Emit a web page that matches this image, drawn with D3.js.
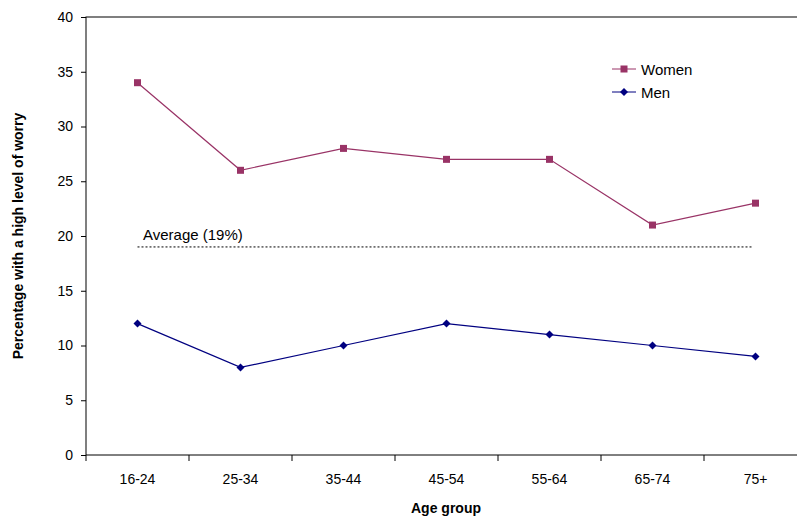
<!DOCTYPE html>
<html><head><meta charset="utf-8">
<script src="https://cdn.jsdelivr.net/npm/d3@7"></script>
<style>body{margin:0;background:#fff}text{font-family:"Liberation Sans",Arial,sans-serif}</style>
</head><body><svg id="c" width="797" height="516"></svg>
<script>
var ages = ["16-24","25-34","35-44","45-54","55-64","65-74","75+"];
var women = [34,26,28,27,27,21,23];
var men = [12,8,10,12,11,10,9];
var average = 19;
var yTicks = [0,5,10,15,20,25,30,35,40];

var svg = d3.select("#c");
var x = d3.scaleBand().domain(ages).range([86,807]);
var y = d3.scaleLinear().domain([0,40]).range([455,17]);
var cx = function(d){ return x(d)+x.bandwidth()/2; };

svg.append("rect").attr("x",86).attr("y",17).attr("width",721).attr("height",438)
	.attr("fill","none").attr("stroke","#000").attr("stroke-width",1);

var ya = svg.append("g").attr("transform","translate(86,0)")
	.call(d3.axisLeft(y).tickValues(yTicks).tickSize(5).tickPadding(8));
ya.select(".domain").remove();
ya.selectAll("text").style("font-size","14px").style("font-family","Liberation Sans, Arial");

var xa = svg.append("g").attr("transform","translate(0,455)")
	.call(d3.axisBottom(x).tickSize(0).tickPadding(19));
xa.select(".domain").remove();
xa.selectAll("text").style("font-size","14px").style("font-family","Liberation Sans, Arial");
svg.selectAll(".xt").data(d3.range(ages.length+1)).enter().append("line")
	.attr("x1",function(i){return 86+i*x.bandwidth();}).attr("x2",function(i){return 86+i*x.bandwidth();})
	.attr("y1",455).attr("y2",461).attr("stroke","#000");

svg.append("line").attr("x1",cx(ages[0])).attr("x2",752).attr("y1",y(average)).attr("y2",y(average))
	.attr("stroke","#000").attr("stroke-dasharray","2,2");
svg.append("text").attr("x",143).attr("y",y(average)-7).style("font-size","15px").text("Average (19%)");

var line = d3.line().x(function(d,i){return cx(ages[i]);}).y(function(d){return y(d);});
svg.append("path").attr("d",line(women)).attr("fill","none").attr("stroke","#993366").attr("stroke-width",1.2);
svg.append("path").attr("d",line(men)).attr("fill","none").attr("stroke","#000080").attr("stroke-width",1.2);
svg.selectAll(".wm").data(women).enter().append("rect")
	.attr("x",function(d,i){return cx(ages[i])-3.5;}).attr("y",function(d){return y(d)-3.5;})
	.attr("width",7).attr("height",7).attr("fill","#993366");
svg.selectAll(".mm").data(men).enter().append("path")
	.attr("transform",function(d,i){return "translate("+cx(ages[i])+","+y(d)+")";})
	.attr("d","M0,-4L4,0L0,4L-4,0Z").attr("fill","#000080");

// legend
svg.append("line").attr("x1",612).attr("x2",636).attr("y1",69).attr("y2",69).attr("stroke","#993366");
svg.append("rect").attr("x",620.5).attr("y",65.5).attr("width",7).attr("height",7).attr("fill","#993366");
svg.append("text").attr("x",641).attr("y",75).style("font-size","15px").text("Women");
svg.append("line").attr("x1",612).attr("x2",636).attr("y1",92).attr("y2",92).attr("stroke","#000080");
svg.append("path").attr("transform","translate(624,92)").attr("d","M0,-4L4,0L0,4L-4,0Z").attr("fill","#000080");
svg.append("text").attr("x",641).attr("y",98).style("font-size","15px").text("Men");

svg.append("text").attr("x",446).attr("y",513).attr("text-anchor","middle")
	.style("font-size","14px").style("font-weight","bold").text("Age group");
svg.append("text").attr("transform","translate(23,236) rotate(-90)").attr("text-anchor","middle")
	.style("font-size","14px").style("font-weight","bold").text("Percentage with a high level of worry");
</script></body></html>
